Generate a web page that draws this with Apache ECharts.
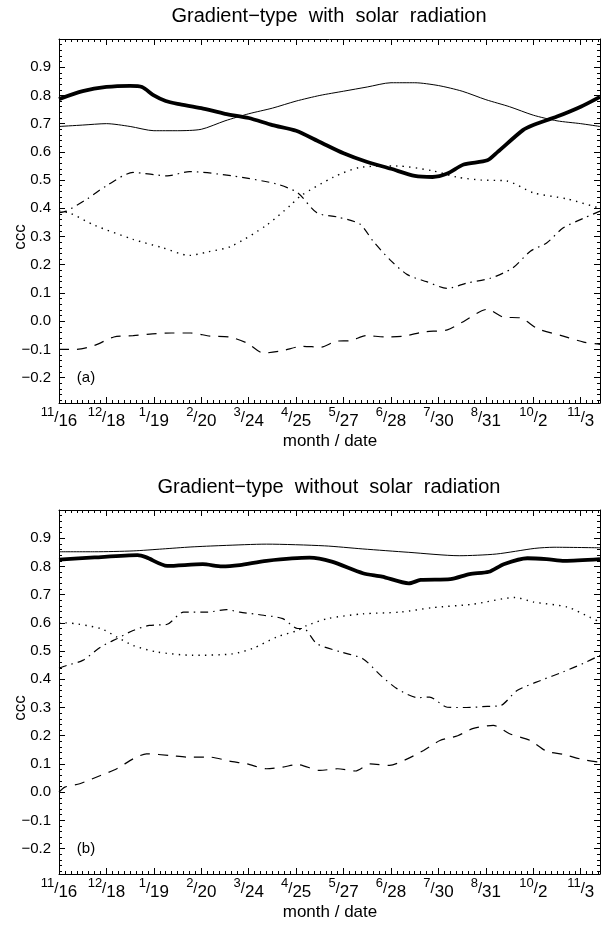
<!DOCTYPE html>
<html>
<head>
<meta charset="utf-8">
<script src="https://cdn.jsdelivr.net/npm/echarts@6/dist/echarts.min.js"></script>
<style>
html,body{margin:0;padding:0;background:#fff;}
#chart{width:603px;height:928px;}
</style>
</head>
<body>
<div id="chart"></div>
<script>
// ---- tick labels (month / date), one every 32 days starting 11/16 ----
const tickMonths = ['11','12','1','2','3','4','5','6','7','8','10','11'];
const tickDates  = ['16','18','19','20','24','25','27','28','30','31','2','3'];
const yTickVals  = [-0.2,-0.1,0.0,0.1,0.2,0.3,0.4,0.5,0.6,0.7,0.8,0.9];

// ---- panel (a): with solar radiation ----
const aThickX = [0,16,32,48,56,64,72,80,96,112,128,144,160,176,192,208,224,240,252,262,273,289,296,313,320,336,352,365];
const aThickY = [0.787,0.815,0.83,0.834,0.83,0.80,0.78,0.77,0.755,0.735,0.72,0.695,0.675,0.635,0.595,0.564,0.54,0.515,0.511,0.523,0.555,0.57,0.60,0.677,0.695,0.725,0.76,0.795];
const aThinX  = [0,16,32,48,64,80,96,112,128,144,160,176,192,208,224,240,256,272,288,304,320,336,352,365];
const aThinY  = [0.69,0.695,0.70,0.69,0.675,0.675,0.68,0.71,0.735,0.755,0.78,0.80,0.815,0.83,0.845,0.845,0.835,0.815,0.785,0.76,0.73,0.71,0.70,0.69];
const aDotX   = [0,7,24,50,70,88,100,116,140,156,163,185,203,228,252,269,285,302,320,343,365];
const aDotY   = [0.39,0.384,0.34,0.29,0.26,0.233,0.245,0.265,0.34,0.41,0.444,0.51,0.545,0.55,0.533,0.51,0.50,0.497,0.455,0.433,0.40];
const aDashDotX = [0,5,19,32,50,73,88,117,147,161,174,188,203,212,223,235,248,262,275,291,306,318,329,340,354,365];
const aDashDotY = [0.385,0.39,0.433,0.48,0.527,0.515,0.53,0.515,0.486,0.455,0.384,0.369,0.344,0.283,0.219,0.165,0.14,0.116,0.135,0.152,0.188,0.248,0.277,0.33,0.365,0.39];
const aDashX  = [0,12,24,37,50,63,76,89,102,115,127,138,151,164,177,187,197,207,220,233,246,262,272,289,300,311,323,339,354,365];
const aDashY  = [-0.10,-0.10,-0.086,-0.056,-0.051,-0.045,-0.042,-0.042,-0.053,-0.056,-0.078,-0.113,-0.104,-0.089,-0.092,-0.071,-0.069,-0.051,-0.056,-0.053,-0.038,-0.031,-0.004,0.042,0.014,0.012,-0.027,-0.051,-0.074,-0.082];

// ---- panel (b): without solar radiation ----
const bThickX = [0,24,53,59,73,97,110,122,140,169,184,205,218,236,244,264,277,290,300,316,329,341,365];
const bThickY = [0.824,0.832,0.84,0.832,0.802,0.808,0.80,0.805,0.82,0.831,0.817,0.776,0.764,0.74,0.752,0.755,0.773,0.781,0.808,0.829,0.826,0.82,0.826];
const bThinX  = [0,24,50,70,89,110,140,179,205,236,270,295,321,334,365];
const bThinY  = [0.852,0.852,0.855,0.862,0.869,0.874,0.879,0.873,0.862,0.85,0.838,0.844,0.864,0.868,0.866];
const bDotX   = [0,4,28,39,50,66,90,117,131,147,161,167,181,205,230,252,279,308,320,343,358,365];
const bDotY   = [0.60,0.60,0.58,0.55,0.52,0.497,0.485,0.49,0.51,0.55,0.573,0.59,0.615,0.632,0.638,0.654,0.666,0.69,0.674,0.656,0.62,0.603];
const bDashDotX = [0,5,16,28,39,50,61,73,84,100,113,122,138,151,161,165,174,190,205,217,228,242,250,262,275,289,298,309,325,340,354,365];
const bDashDotY = [0.44,0.449,0.467,0.514,0.544,0.573,0.591,0.595,0.638,0.638,0.647,0.638,0.627,0.615,0.58,0.58,0.526,0.497,0.473,0.414,0.367,0.335,0.337,0.301,0.30,0.304,0.307,0.36,0.396,0.426,0.457,0.485];
const bDashX  = [0,4,14,28,39,50,59,75,88,102,115,127,140,151,161,176,188,200,210,223,235,246,257,269,279,293,304,318,329,340,354,365];
const bDashY  = [0.0,0.018,0.03,0.059,0.083,0.118,0.136,0.13,0.124,0.124,0.11,0.10,0.083,0.089,0.098,0.077,0.083,0.075,0.10,0.095,0.118,0.148,0.183,0.20,0.225,0.237,0.207,0.183,0.145,0.134,0.115,0.106];

const X_MIN = 0, X_MAX = 365, Y_MIN = -0.29, Y_MAX = 1.0;
const FONT = 'Liberation Sans, Arial, Helvetica, sans-serif';

function pairs(xs, ys){ return xs.map((x,i)=>[x, ys[i]]); }

const xMajor = tickMonths.map((_,i)=>i*32);
const xMinor = [];
for (let d=4; d<X_MAX; d+=4) if (d%32!==0) xMinor.push(d);
const yMinor = [];
for (let k=-14; k<=50; k++){ if (k%5!==0) yMinor.push(+(k*0.02).toFixed(2)); }

const chart = echarts.init(document.getElementById('chart'), null, {renderer:'canvas'});

const grids = [
  {left:59, right:3, top:39, height:364},
  {left:59, right:3, top:510, height:364}
];

const xAxes = [], yAxes = [];
grids.forEach((g, gi)=>{
  const lineOn = {show:true, onZero:false, lineStyle:{color:'#000', width:1}};
  const lineOff = {show:false, onZero:false};
  xAxes.push({type:'value', gridIndex:gi, position:'bottom', min:X_MIN, max:X_MAX,
    axisLine:lineOn, splitLine:{show:false},
    axisTick:{show:true, inside:true, length:6, customValues:xMajor, lineStyle:{color:'#000'}},
    axisLabel:{show:true, customValues:xMajor, margin:3, color:'#000',
      formatter:(v)=>{ const i=Math.round(v/32); return '{m|'+tickMonths[i]+'}{s|/}{d|'+tickDates[i]+'}'; },
      rich:{
        m:{fontFamily:FONT, fontSize:13, color:'#000', verticalAlign:'top', lineHeight:24},
        s:{fontFamily:FONT, fontSize:15, color:'#000', verticalAlign:'middle', lineHeight:24},
        d:{fontFamily:FONT, fontSize:17, color:'#000', verticalAlign:'bottom', lineHeight:24}
      }}
  });
  xAxes.push({type:'value', gridIndex:gi, position:'bottom', min:X_MIN, max:X_MAX,
    axisLine:lineOff, splitLine:{show:false}, axisLabel:{show:false},
    axisTick:{show:true, inside:true, length:3, customValues:xMinor, lineStyle:{color:'#000'}}});
  xAxes.push({type:'value', gridIndex:gi, position:'top', min:X_MIN, max:X_MAX,
    axisLine:lineOn, splitLine:{show:false}, axisLabel:{show:false},
    axisTick:{show:true, inside:true, length:6, customValues:xMajor, lineStyle:{color:'#000'}}});
  xAxes.push({type:'value', gridIndex:gi, position:'top', min:X_MIN, max:X_MAX,
    axisLine:lineOff, splitLine:{show:false}, axisLabel:{show:false},
    axisTick:{show:true, inside:true, length:3, customValues:xMinor, lineStyle:{color:'#000'}}});

  yAxes.push({type:'value', gridIndex:gi, position:'left', min:Y_MIN, max:Y_MAX,
    axisLine:lineOn, splitLine:{show:false},
    axisTick:{show:true, inside:true, length:6, customValues:yTickVals, lineStyle:{color:'#000'}},
    axisLabel:{show:true, customValues:yTickVals, margin:8, color:'#000', fontFamily:FONT, fontSize:15,
      formatter:(v)=> (v < -1e-9 ? '\u2212' : '') + Math.abs(v).toFixed(1)}});
  yAxes.push({type:'value', gridIndex:gi, position:'left', min:Y_MIN, max:Y_MAX,
    axisLine:lineOff, splitLine:{show:false}, axisLabel:{show:false},
    axisTick:{show:true, inside:true, length:3, customValues:yMinor, lineStyle:{color:'#000'}}});
  yAxes.push({type:'value', gridIndex:gi, position:'right', min:Y_MIN, max:Y_MAX,
    axisLine:lineOn, splitLine:{show:false}, axisLabel:{show:false},
    axisTick:{show:true, inside:true, length:6, customValues:yTickVals, lineStyle:{color:'#000'}}});
  yAxes.push({type:'value', gridIndex:gi, position:'right', min:Y_MIN, max:Y_MAX,
    axisLine:lineOff, splitLine:{show:false}, axisLabel:{show:false},
    axisTick:{show:true, inside:true, length:3, customValues:yMinor, lineStyle:{color:'#000'}}});
});

function mk(xs, ys, gi, style){
  return {type:'line', xAxisIndex:gi*4, yAxisIndex:gi*4, data:pairs(xs,ys),
    showSymbol:false, symbol:'none', smooth:0.25, animation:false, silent:true,
    lineStyle:Object.assign({color:'#000'}, style)};
}
const sThick = {width:3.8, type:'solid'};
const sThin  = {width:1, type:'solid'};
const sDot   = {width:1.4, type:[1.4,5.2]};
const sDashDot = {width:1.2, type:[8,5,1.5,5]};
const sDash  = {width:1.2, type:[10,8]};

const series = [
  mk(aThinX, aThinY, 0, sThin),
  mk(aDotX, aDotY, 0, sDot),
  mk(aDashDotX, aDashDotY, 0, sDashDot),
  mk(aDashX, aDashY, 0, sDash),
  mk(aThickX, aThickY, 0, sThick),
  mk(bThinX, bThinY, 1, sThin),
  mk(bDotX, bDotY, 1, sDot),
  mk(bDashDotX, bDashDotY, 1, sDashDot),
  mk(bDashX, bDashY, 1, sDash),
  mk(bThickX, bThickY, 1, sThick)
];

function txt(text, x, y, size, extra){
  return Object.assign({type:'text', x:x, y:y, silent:true,
    style:{text:text, fill:'#000', font: size+'px '+FONT, textAlign:'center', textVerticalAlign:'middle'}}, extra||{});
}

const graphic = [
  txt('Gradient\u2212type  with  solar  radiation', 329, 16, 20),
  txt('Gradient\u2212type  without  solar  radiation', 329, 487, 20),
  txt('month / date', 330, 441, 17),
  txt('month / date', 330, 912, 17),
  txt('ccc', 20, 237, 17, {rotation:Math.PI/2}),
  txt('ccc', 20, 708, 17, {rotation:Math.PI/2}),
  txt('(a)', 86, 378, 15),
  txt('(b)', 86, 849, 15)
];

chart.setOption({
  animation:false,
  backgroundColor:'#fff',
  grid:grids,
  xAxis:xAxes,
  yAxis:yAxes,
  series:series,
  graphic:graphic
});
</script>
</body>
</html>
